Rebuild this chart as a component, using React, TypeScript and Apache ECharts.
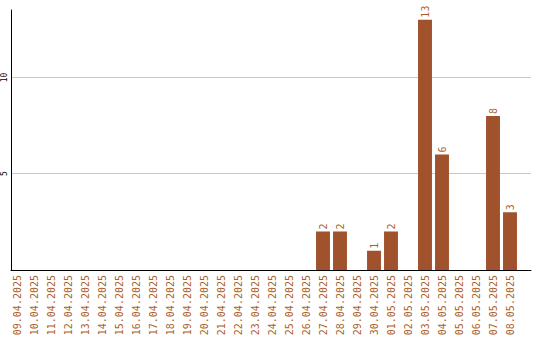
import React, { useEffect, useRef } from "react";
import * as echarts from "echarts";

const categories: string[] = [
  "09.04.2025", "10.04.2025", "11.04.2025", "12.04.2025", "13.04.2025",
  "14.04.2025", "15.04.2025", "16.04.2025", "17.04.2025", "18.04.2025",
  "19.04.2025", "20.04.2025", "21.04.2025", "22.04.2025", "23.04.2025",
  "24.04.2025", "25.04.2025", "26.04.2025", "27.04.2025", "28.04.2025",
  "29.04.2025", "30.04.2025", "01.05.2025", "02.05.2025", "03.05.2025",
  "04.05.2025", "05.05.2025", "06.05.2025", "07.05.2025", "08.05.2025",
];

const values: number[] = [
  0, 0, 0, 0, 0,
  0, 0, 0, 0, 0,
  0, 0, 0, 0, 0,
  0, 0, 0, 2, 2,
  0, 1, 2, 0, 13,
  6, 0, 0, 8, 3,
];

const yTickLabels: number[] = [5, 10];
const yMax = 13.5;

const BAR = "#A0522D";
const TEXT = "#AC5F2A";
const MONO = "'DejaVu Sans Mono', monospace";

export default function App() {
  const ref = useRef<HTMLDivElement>(null);
  useEffect(() => {
    if (!ref.current) return;
    const chart = echarts.init(ref.current, null, { renderer: "svg" });
    chart.setOption({
      animation: false,
      backgroundColor: "#ffffff",
      grid: [
        { left: 8.5, width: 510, top: 10, bottom: 70, containLabel: false },
        { left: 10, right: 9, top: 10, bottom: 70, containLabel: false },
      ],
      xAxis: [
        {
          type: "category",
          gridIndex: 0,
          data: categories,
          boundaryGap: true,
          axisLine: { show: false },
          axisTick: { show: false },
          axisLabel: {
            interval: 0,
            rotate: 90,
            margin: 5,
            color: TEXT,
            fontFamily: MONO,
            fontSize: 10,
          },
        },
        {
          type: "value",
          gridIndex: 1,
          min: 0,
          max: 1,
          axisLine: { show: true, lineStyle: { color: "#000", width: 1 } },
          axisTick: { show: false },
          axisLabel: { show: false },
          splitLine: { show: false },
        },
      ],
      yAxis: [
        {
          type: "value",
          gridIndex: 0,
          min: 0,
          max: yMax,
          show: false,
          splitLine: { show: false },
        },
        {
          type: "value",
          gridIndex: 1,
          min: 0,
          max: yMax,
          interval: 5,
          axisLine: { show: true, onZero: false, lineStyle: { color: "#000", width: 1 } },
          axisTick: { show: false },
          axisLabel: {
            rotate: 90,
            margin: 3,
            color: "#000",
            fontFamily: MONO,
            fontSize: 8,
            formatter: (v: number) => (yTickLabels.includes(v) ? String(v) : ""),
          },
          splitLine: {
            show: true,
            lineStyle: { color: ["#c8c8c8", "#c8c8c8", "#c8c8c8", "rgba(0,0,0,0)"], width: 1 },
          },
        },
      ],
      series: [
        {
          type: "bar",
          xAxisIndex: 0,
          yAxisIndex: 0,
          data: values,
          barCategoryGap: "18%",
          itemStyle: { color: BAR },
          label: {
            show: true,
            position: "top",
            rotate: 90,
            align: "left",
            verticalAlign: "middle",
            distance: 2,
            color: TEXT,
            fontFamily: MONO,
            fontSize: 10,
            formatter: (p: any) => (p.value ? String(p.value) : ""),
          },
        },
      ],
    });
    return () => chart.dispose();
  }, []);
  return (
    <div
      ref={ref}
      style={{ position: "fixed", left: 0, top: 0, width: 540, height: 340 }}
    />
  );
}
